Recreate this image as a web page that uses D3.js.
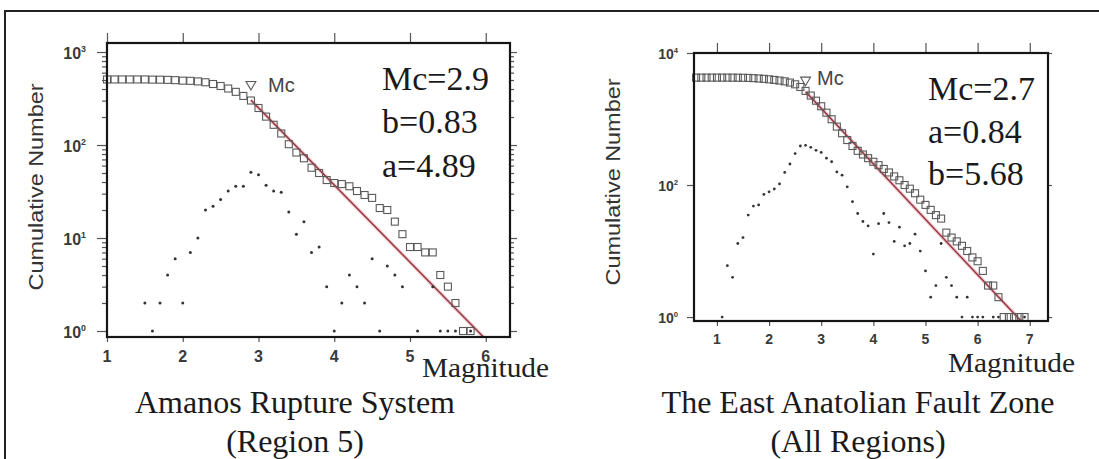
<!DOCTYPE html>
<html><head><meta charset="utf-8">
<script src="https://cdnjs.cloudflare.com/ajax/libs/d3/7.8.5/d3.min.js"></script>
<style>html,body{margin:0;padding:0;background:#fff;}svg{display:block;}</style>
</head><body>
<svg id="chart" width="1099" height="459"></svg>
<script>
// ---------------- DATA ----------------
// Left panel: Amanos Rupture System (Region 5)
const leftCumMag = [1.0,1.1,1.2,1.3,1.4,1.5,1.6,1.7,1.8,1.9,2.0,2.1,2.2,2.3,2.4,2.5,2.6,2.7,2.8,2.9,3.0,3.1,3.2,3.3,3.4,3.5,3.6,3.7,3.8,3.9,4.0,4.1,4.2,4.3,4.4,4.5,4.6,4.7,4.8,4.9,5.0,5.1,5.2,5.3,5.4,5.5,5.6,5.7,5.8];
const leftCumN   = [507,507,507,507,507,507,505,504,502,498,492,490,483,473,453,431,405,373,337,301,250,202,165,133,102,83,72,57,50,42,39,38,36,32,29,27,21,20,15,11,8,8,7,7,4,3,2,1,1];
const leftNcMag  = [1.5,1.6,1.7,1.8,1.9,2.0,2.1,2.2,2.3,2.4,2.5,2.6,2.7,2.8,2.9,3.0,3.1,3.2,3.3,3.4,3.5,3.6,3.7,3.8,3.9,4.0,4.1,4.2,4.3,4.4,4.5,4.6,4.7,4.8,4.9,5.1,5.3,5.4,5.5,5.6,5.8];
const leftNcN    = [2,1,2,4,6,2,7,10,20,22,26,32,36,36,51,48,37,32,31,19,11,15,7,8,3,1,2,4,3,2,6,1,5,4,3,1,3,1,1,1,1];
const leftMc = 2.9, leftMcN = 450;
const leftFitA = 4.89, leftFitB = 0.83;
const leftStats = ["Mc=2.9", "b=0.83", "a=4.89"];
const leftTitle = ["Amanos Rupture System", "(Region 5)"];
const leftXTicks = [1,2,3,4,5,6];
const leftYMajor = [1,10,100,1000];
const leftYExp = [0,1,2,3];
const leftXDomain = [1, 6.32];
const leftYDomain = [Math.pow(10,-0.0645), Math.pow(10,3.097)];

// Right panel: The East Anatolian Fault Zone (All Regions)
const rightCumMag = [0.6,0.7,0.8,0.9,1.0,1.1,1.2,1.3,1.4,1.5,1.6,1.7,1.8,1.9,2.0,2.1,2.2,2.3,2.4,2.5,2.6,2.7,2.8,2.9,3.0,3.1,3.2,3.3,3.4,3.5,3.6,3.7,3.8,3.9,4.0,4.1,4.2,4.3,4.4,4.5,4.6,4.7,4.8,4.9,5.0,5.1,5.2,5.3,5.4,5.5,5.6,5.7,5.8,5.9,6.0,6.1,6.2,6.3,6.4,6.5,6.6,6.7,6.8,6.9];
const rightCumN   = [4234,4234,4234,4234,4234,4234,4233,4227,4223,4210,4194,4159,4111,4061,3989,3910,3823,3719,3564,3356,3056,2666,2266,1894,1559,1247,992,767,609,480,390,330,290,255,225,200,175,155,135,118,100,88,75,60,50,42,35,31,19,16,14,12,10,8,7,5,3,3,2,1,1,1,1,1];
const rightNcMag  = [1.1,1.2,1.3,1.4,1.5,1.6,1.7,1.8,1.9,2.0,2.1,2.2,2.3,2.4,2.5,2.6,2.7,2.8,2.9,3.0,3.1,3.2,3.3,3.4,3.5,3.6,3.7,3.8,3.9,4.0,4.1,4.2,4.3,4.4,4.5,4.6,4.7,4.8,4.9,5.0,5.1,5.2,5.3,5.4,5.5,5.6,5.7,5.8,5.9,6.0,6.1,6.3,6.4,6.9];
const rightNcN    = [1,6,4,13,16,35,48,50,72,79,87,104,155,208,300,390,400,372,335,312,255,225,158,141,94,56,37,28,24,9,26,37,27,14,23,12,13,18,10,5,2,3,13,4,3,2,1,2,1,1,1,1,1,1];
const rightMc = 2.7, rightMcN = 3900;
const rightFitA = 5.68, rightFitB = 0.84;
const rightStats = ["Mc=2.7", "a=0.84", "b=5.68"];
const rightTitle = ["The East Anatolian Fault Zone", "(All Regions)"];
const rightXTicks = [1,2,3,4,5,6,7];
const rightYMajor = [1,100,10000];
const rightYExp = [0,2,4];
const rightXDomain = [0.56, 7.35];
const rightYDomain = [Math.pow(10,-0.06), 10000];

const yAxisTitle = "Cumulative Number";
const xAxisTitle = "Magnitude";

// ---------------- DRAWING ----------------
const svg = d3.select("#chart");
svg.append("rect").attr("width",1099).attr("height",459).attr("fill","#fff");
// outer frame (top + left)
svg.append("path").attr("d","M5,459V11H1099").attr("fill","none").attr("stroke","#222").attr("stroke-width",2);

function drawPanel(c) {
  const x = d3.scaleLinear().domain(c.xDomain).range([c.L, c.R]);
  const y = d3.scaleLog().domain(c.yDomain).range([c.B, c.T]);
  const g = svg.append("g");
  const clipId = "clip" + c.id;
  g.append("clipPath").attr("id", clipId).append("rect")
    .attr("x", c.L).attr("y", c.T).attr("width", c.R - c.L).attr("height", c.B - c.T);

  // fit line (Gutenberg-Richter)
  const fitPts = [c.mc, c.xDomain[1]].map(m => [x(m), y(Math.pow(10, c.fitA - c.fitB * m))]);
  const lg = g.append("g").attr("clip-path", `url(#${clipId})`);
  lg.append("path").attr("d", d3.line()(fitPts)).attr("stroke", "#f2c4c8").attr("stroke-width", 3.6).attr("fill","none");
  lg.append("path").attr("d", d3.line()(fitPts)).attr("stroke", "#8e2f3c").attr("stroke-width", 1.3).attr("fill","none");

  // non-cumulative dots
  g.append("g").selectAll("circle").data(c.ncMag).join("circle")
    .attr("cx", (d) => x(d)).attr("cy", (d, i) => y(c.ncN[i]))
    .attr("r", c.dotR).attr("fill", "#333");

  // cumulative squares
  const s = c.sq;
  g.append("g").selectAll("rect").data(c.cumMag).join("rect")
    .attr("x", d => x(d) - s/2).attr("y", (d, i) => y(c.cumN[i]) - s/2)
    .attr("width", s).attr("height", s)
    .attr("fill", "none").attr("stroke", "#5a5a5a").attr("stroke-width", 1.1);

  // Mc triangle
  g.append("path")
    .attr("d", d3.symbol().type(d3.symbolTriangle).size(42)())
    .attr("transform", `translate(${x(c.mc)},${y(c.mcN)}) rotate(180)`)
    .attr("fill", "none").attr("stroke", "#555").attr("stroke-width", 1.1);
  g.append("text").attr("x", c.mcTextX).attr("y", c.mcTextY)
    .attr("font-family", "Liberation Sans, Arial, sans-serif").attr("font-size", 20)
    .attr("fill", "#444").text("Mc");

  // axes
  const tickStyle = sel => { sel.select(".domain").remove(); sel.selectAll("line").attr("stroke","#555").attr("stroke-width",1.2); };
  g.append("g").attr("transform", `translate(0,${c.B})`)
    .call(d3.axisBottom(x).tickValues(c.xTicks).tickSize(5).tickFormat(""))
    .call(tickStyle);
  g.append("g").attr("transform", `translate(0,${c.T})`)
    .call(d3.axisTop(x).tickValues(c.xTicks).tickSize(10).tickFormat(""))
    .call(tickStyle);
  g.append("g").attr("transform", `translate(${c.L},0)`)
    .call(d3.axisLeft(y).tickValues(c.yMajor).tickSize(c.majorLen).tickFormat(""))
    .call(tickStyle);
  g.append("g").attr("transform", `translate(${c.R},0)`)
    .call(d3.axisRight(y).tickValues(c.yMajor).tickSize(c.majorLen - 3).tickFormat(""))
    .call(tickStyle);
  if (c.minor) {
    const minor = [];
    c.yMajor.forEach(v => { for (let k = 2; k <= 9; k++) { const m = v * k; if (m <= c.yDomain[1]) minor.push(m); } });
    g.append("g").attr("transform", `translate(${c.L},0)`)
      .call(d3.axisLeft(y).tickValues(minor).tickSize(5).tickFormat("")).call(tickStyle);
    g.append("g").attr("transform", `translate(${c.R},0)`)
      .call(d3.axisRight(y).tickValues(minor).tickSize(4).tickFormat("")).call(tickStyle);
  }

  // x tick labels
  g.append("g").selectAll("text").data(c.xTicks).join("text")
    .attr("x", d => x(d)).attr("y", c.B + c.xLabOff)
    .attr("text-anchor", "middle").attr("font-family", "Liberation Sans, Arial, sans-serif")
    .attr("font-weight", "bold").attr("font-size", c.tickFont).attr("fill", "#3a3a3a")
    .text(d => d);
  // y tick labels 10^n
  c.yMajor.forEach((v, i) => {
    const t = g.append("text").attr("x", c.L - c.yLabGap).attr("y", y(v) + c.tickFont * 0.36 + 1)
      .attr("text-anchor", "end").attr("font-family", "Liberation Sans, Arial, sans-serif")
      .attr("font-weight", "bold").attr("font-size", c.tickFont).attr("fill", "#3a3a3a");
    t.append("tspan").text("10");
    t.append("tspan").attr("dy", -c.tickFont * 0.45).attr("font-size", c.tickFont * 0.55).text(c.yExp[i]);
  });

  // box
  g.append("rect").attr("x", c.L).attr("y", c.T).attr("width", c.R - c.L).attr("height", c.B - c.T)
    .attr("fill", "none").attr("stroke", "#151515").attr("stroke-width", 2.2);

  // y axis title
  g.append("text").attr("transform", `translate(${c.yTitleX},${c.yTitleY}) rotate(-90)`)
    .attr("text-anchor", "middle").attr("dy", "0.35em")
    .attr("font-family", "Liberation Sans, Arial, sans-serif").attr("font-size", 20).attr("fill", "#333")
    .attr("textLength", 207).attr("lengthAdjust", "spacingAndGlyphs")
    .text(yAxisTitle);
  // x axis title
  g.append("text").attr("x", c.magX).attr("y", c.magY)
    .attr("font-family", "Liberation Serif, Times New Roman, serif").attr("font-size", 27).attr("fill", "#222")
    .attr("textLength", 127).attr("lengthAdjust", "spacingAndGlyphs")
    .text(xAxisTitle);

  // stats
  c.stats.forEach((s, i) => {
    g.append("text").attr("x", c.statX).attr("y", c.statY[i])
      .attr("font-family", "Liberation Serif, Times New Roman, serif").attr("font-size", 34).attr("fill", "#1a1a1a")
      .text(s);
  });
  // title
  c.title.forEach((s, i) => {
    g.append("text").attr("x", c.titleX).attr("y", c.titleY[i]).attr("text-anchor", "middle")
      .attr("font-family", "Liberation Serif, Times New Roman, serif").attr("font-size", 32).attr("fill", "#1a1a1a")
      .text(s);
  });
}

drawPanel({
  id: "L", L: 107, R: 510, T: 43, B: 337,
  xDomain: leftXDomain, yDomain: leftYDomain,
  cumMag: leftCumMag, cumN: leftCumN, ncMag: leftNcMag, ncN: leftNcN,
  mc: leftMc, mcN: leftMcN, fitA: leftFitA, fitB: leftFitB,
  xTicks: leftXTicks, yMajor: leftYMajor, yExp: leftYExp, minor: true,
  majorLen: 10, sq: 7, dotR: 1.5, tickFont: 16, xLabOff: 25, yLabGap: 21,
  mcTextX: 268, mcTextY: 92,
  yTitleX: 36, yTitleY: 187, magX: 422, magY: 377,
  stats: leftStats, statX: 382, statY: [90, 133, 177],
  title: leftTitle, titleX: 295, titleY: [413, 452]
});
drawPanel({
  id: "R", L: 694, R: 1048, T: 53, B: 321,
  xDomain: rightXDomain, yDomain: rightYDomain,
  cumMag: rightCumMag, cumN: rightCumN, ncMag: rightNcMag, ncN: rightNcN,
  mc: rightMc, mcN: rightMcN, fitA: rightFitA, fitB: rightFitB,
  xTicks: rightXTicks, yMajor: rightYMajor, yExp: rightYExp, minor: false,
  majorLen: 7, sq: 7, dotR: 1.4, tickFont: 14, xLabOff: 23, yLabGap: 16,
  mcTextX: 817, mcTextY: 85,
  yTitleX: 613, yTitleY: 182, magX: 948, magY: 372,
  stats: rightStats, statX: 928, statY: [100, 143, 185],
  title: rightTitle, titleX: 858, titleY: [413, 452]
});
</script>
</body></html>
